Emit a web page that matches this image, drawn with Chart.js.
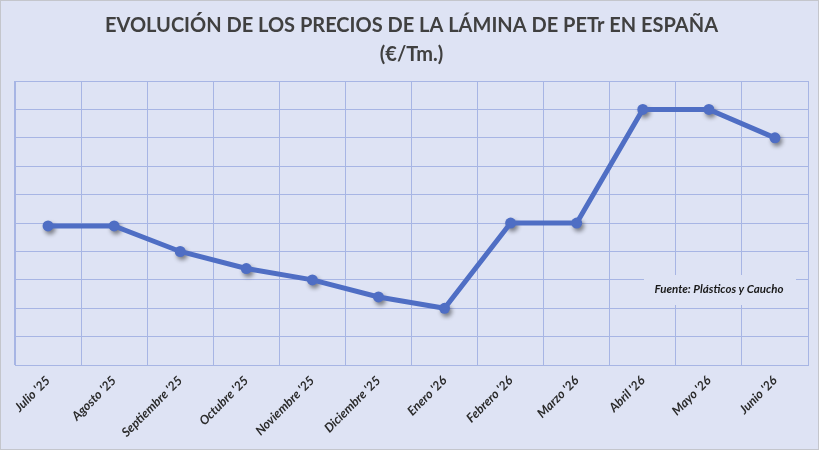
<!DOCTYPE html>
<html>
<head>
<meta charset="utf-8">
<script src="https://cdn.jsdelivr.net/npm/chart.js@4.4.1/dist/chart.umd.min.js"></script>
<style>
    html, body { margin: 0; padding: 0; background: #dee3f4; }
    #wrap { width: 817px; height: 448px; border: 1px solid #c4c6cc; position: relative; }
    canvas { display: block; }
</style>
</head>
<body>
<div id="wrap"><canvas id="chart" width="817" height="448"></canvas></div>
<script>
    // Data (unitless grid, 0..10)
    const months = ["Julio '25", "Agosto '25", "Septiembre '25", "Octubre '25", "Noviembre '25", "Diciembre '25",
        "Enero '26", "Febrero '26", "Marzo '26", "Abril '26", "Mayo '26", "Junio '26"];
    const prices = [4.9, 4.9, 4.0, 3.4, 3.0, 2.4, 2.0, 5.0, 5.0, 9.0, 9.0, 8.0];
    const titleLines = ['EVOLUCIÓN DE LOS PRECIOS DE LA LÁMINA DE PETr EN ESPAÑA', '(€/Tm.)'];
    const sourceNote = 'Fuente: Plásticos y Caucho';

    const bg = '#dee3f4';
    const gridColor = '#a7b5e4';
    const lineColor = '#4f6ec4';

    // soft shadow under the markers only
    const markerShadow = {
        id: 'markerShadow',
        beforeDatasetDraw(chart, args) {
            if (args.index !== 1) return;
            const ctx = chart.ctx;
            ctx.save();
            ctx.shadowColor = 'rgba(0,0,0,0.45)';
            ctx.shadowBlur = 4;
            ctx.shadowOffsetX = 2;
            ctx.shadowOffsetY = 3;
        },
        afterDatasetDraw(chart, args) {
            if (args.index !== 1) return;
            chart.ctx.restore();
        }
    };

    // "Fuente" box sitting over the grid
    const sourceBox = {
        id: 'sourceBox',
        beforeDatasetsDraw(chart) {
            const { ctx, chartArea, scales } = chart;
            const cy = scales.y.getPixelForValue(2.68);
            const x1 = chartArea.right - 164, x2 = chartArea.right - 12;
            ctx.save();
            ctx.fillStyle = bg;
            ctx.fillRect(x1, cy - 14, x2 - x1, 30);
            ctx.fillStyle = '#1a1a1a';
            ctx.font = 'italic bold 11.5px Lato, "Open Sans", sans-serif';
            ctx.textAlign = 'center';
            ctx.textBaseline = 'middle';
            ctx.fillText(sourceNote, (x1 + x2) / 2 - 1, cy);
            ctx.restore();
        }
    };

    new Chart(document.getElementById('chart'), {
        type: 'line',
        data: {
            labels: months,
            datasets: [{
                data: prices,
                borderColor: lineColor,
                borderWidth: 5,
                pointRadius: 0,
                tension: 0
            }, {
                data: prices,
                showLine: false,
                pointRadius: 5.5,
                pointBackgroundColor: lineColor,
                pointBorderColor: lineColor,
                pointBorderWidth: 0
            }]
        },
        options: {
            responsive: false,
            animation: false,
            layout: { padding: { left: 14, right: 10, top: 0, bottom: 1 } },
            plugins: {
                legend: { display: false },
                tooltip: { enabled: false },
                title: {
                    display: true,
                    text: titleLines,
                    color: '#404040',
                    font: { family: 'Lato, "Open Sans", sans-serif', size: 20, weight: 'bold', lineHeight: 1.45 },
                    padding: { top: 10, bottom: 12 }
                }
            },
            scales: {
                x: {
                    offset: true,
                    grid: { offset: true, color: gridColor, drawTicks: false },
                    border: { color: gridColor },
                    ticks: {
                        color: '#2a2a2a',
                        font: { family: 'Lato, "Open Sans", sans-serif', size: 12.5, style: 'italic', weight: 'bold' },
                        maxRotation: 45,
                        minRotation: 45,
                        padding: 8,
                        autoSkip: false
                    }
                },
                y: {
                    min: 0,
                    max: 10,
                    ticks: { display: false, stepSize: 1 },
                    grid: { color: gridColor, drawTicks: false },
                    border: { color: gridColor }
                }
            }
        },
        plugins: [markerShadow, sourceBox]
    });
</script>
</body>
</html>
